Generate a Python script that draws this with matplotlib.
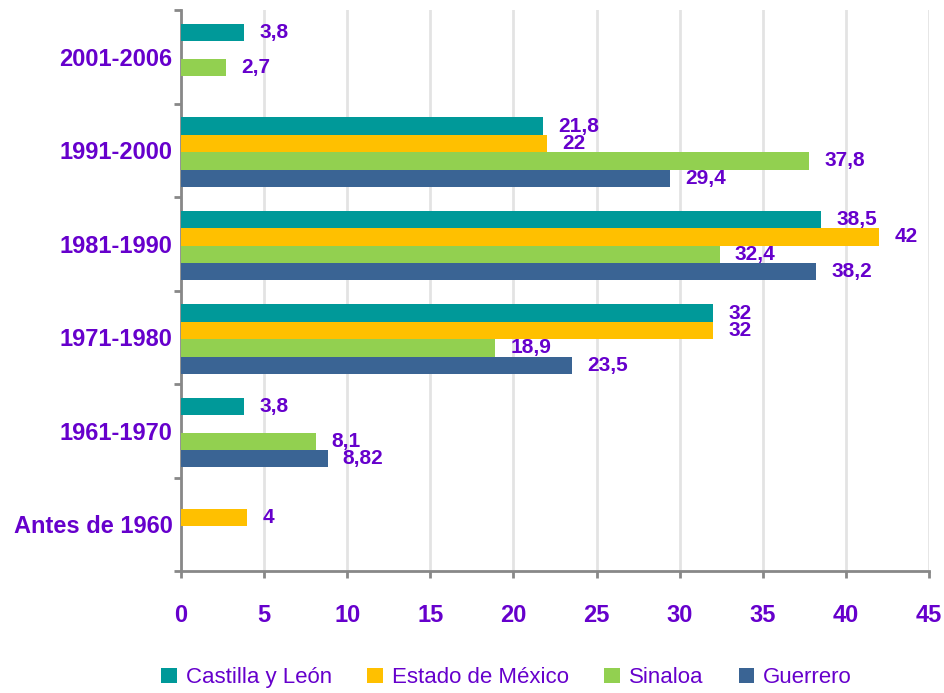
import matplotlib.pyplot as plt
import numpy as np

plt.rcParams['font.family'] = ['Liberation Sans', 'DejaVu Sans']

# Periods (bottom to top) and values per region; None = no bar
periods = ['Antes de 1960', '1961-1970', '1971-1980', '1981-1990', '1991-2000', '2001-2006']
castilla = [None, 3.8, 32, 38.5, 21.8, 3.8]
edomex = [4, None, 32, 42, 22, None]
sinaloa = [None, 8.1, 18.9, 32.4, 37.8, 2.7]
guerrero = [None, 8.82, 23.5, 38.2, 29.4, None]

series = [('Castilla y León', castilla, '#009999'),
          ('Estado de México', edomex, '#FFC000'),
          ('Sinaloa', sinaloa, '#92D050'),
          ('Guerrero', guerrero, '#3A6494')]

purple = '#6600CC'
grey = '#888888'

fig = plt.figure(figsize=(9.45, 6.93), dpi=100)
ax = fig.add_axes([0.1915, 0.176, 0.7915, 0.8095])

h = 0.186
y = np.arange(len(periods))
for j, (name, vals, col) in enumerate(series):
    ypos = y + (1.5 - j) * h - 0.02
    widths = [np.nan if v is None else v for v in vals]
    ax.barh(ypos, widths, height=h, color=col, label=name, zorder=3)
    for yy, v in zip(ypos, vals):
        if v is None:
            continue
        ax.annotate(f'{v:g}'.replace('.', ','), (v, yy), xytext=(11, 0),
                    textcoords='offset points', va='center', ha='left',
                    color=purple, fontsize=15, fontweight='bold')

ax.set_xlim(0, 45)
ax.set_ylim(-0.5, len(periods) - 0.5)
ax.set_xticks(range(0, 50, 5))
ax.set_yticks(y)
ax.set_yticklabels(periods)
ax.set_yticks(np.arange(-0.5, len(periods)), minor=True)

ax.grid(True, axis='x', color='#e3e3e3', linewidth=2, zorder=0)
ax.grid(False, axis='y')
for s in ['top', 'right']:
    ax.spines[s].set_visible(False)
for s in ['left', 'bottom']:
    ax.spines[s].set_color(grey)
    ax.spines[s].set_linewidth(2)

ax.tick_params(axis='y', which='major', length=0, pad=6,
               labelsize=17, labelcolor=purple)
ax.tick_params(axis='y', which='minor', length=5, width=2, color=grey, direction='out')
ax.tick_params(axis='x', length=5, width=2, color=grey, pad=19,
               labelsize=17, labelcolor=purple)
for lab in ax.get_xticklabels() + ax.get_yticklabels():
    lab.set_fontweight('bold')

fig.legend(loc='center', bbox_to_anchor=(0.536, 0.022), ncol=4, frameon=False,
           fontsize=16, labelcolor=purple, handlelength=0.7, handleheight=0.7,
           handletextpad=0.4, columnspacing=1.6)

fig.savefig('out.png', dpi=100)
